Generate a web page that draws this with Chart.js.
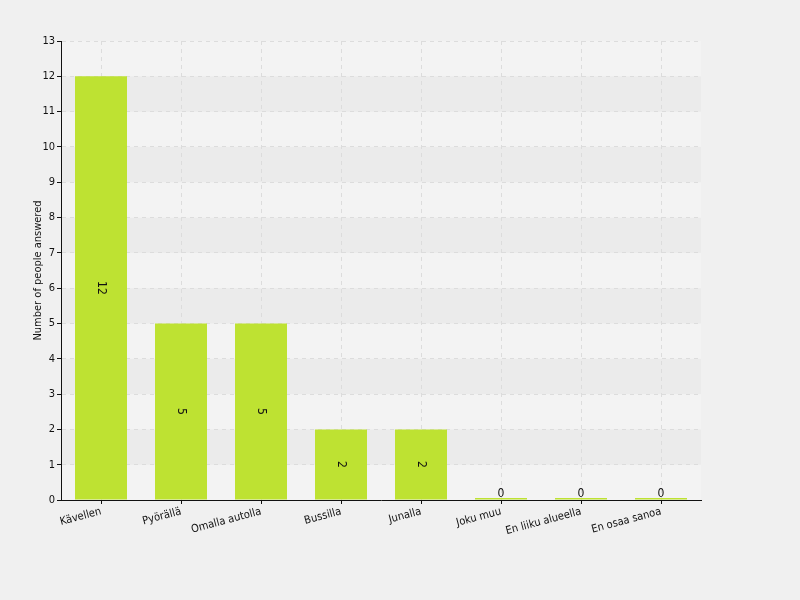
<!DOCTYPE html>
<html>
<head>
<meta charset="utf-8">
<script src="https://cdn.jsdelivr.net/npm/chart.js@4/dist/chart.umd.min.js"></script>
<style>
	html, body { margin: 0; padding: 0; background: #f0f0f0; }
	#wrap { width: 800px; height: 600px; }
</style>
</head>
<body>
<div id="wrap"><canvas id="canvasTravel"></canvas></div>
<script>
var categoryList = ['Kävellen', 'Pyörällä', 'Omalla autolla', 'Bussilla', 'Junalla', 'Joku muu', 'En liiku alueella', 'En osaa sanoa'];
var valueList = [12, 5, 5, 2, 2, 0, 0, 0];
var axisTitle = 'Number of people answered';
var fontName = "'DejaVu Sans', sans-serif";
var fontWeight = 'normal condensed';

/* alternating horizontal bands behind the grid */
var bandPlugin = {
	id: 'bands',
	beforeDraw: function(chart) {
		var ctx = chart.ctx, area = chart.chartArea, y = chart.scales.y;
		ctx.save();
		for (var v = 0; v < y.max; v++) {
			var top = y.getPixelForValue(v + 1), bottom = y.getPixelForValue(v);
			ctx.fillStyle = (v % 2 === 0) ? '#f3f3f3' : '#ebebeb';
			ctx.fillRect(area.left, top, area.right - area.left, bottom - top);
		}
		ctx.restore();
	}
};

/* values written on the bars */
var valuePlugin = {
	id: 'values',
	afterDatasetsDraw: function(chart) {
		var ctx = chart.ctx;
		var meta = chart.getDatasetMeta(0);
		ctx.save();
		ctx.fillStyle = '#111';
		ctx.font = fontWeight + ' 12px ' + fontName;
		meta.data.forEach(function(bar, i) {
			var val = valueList[i];
			if (val === 0) {
				ctx.textAlign = 'center';
				ctx.textBaseline = 'bottom';
				ctx.fillText(String(val), bar.x, bar.base);
			} else {
				ctx.save();
				ctx.translate(bar.x, (bar.y + bar.base) / 2);
				ctx.rotate(Math.PI / 2);
				ctx.textAlign = 'center';
				ctx.textBaseline = 'middle';
				ctx.fillText(String(val), 0, 0);
				ctx.restore();
			}
		});
		ctx.restore();
	}
};

Chart.defaults.font.family = fontName;
Chart.defaults.font.size = 11;
Chart.defaults.font.weight = fontWeight;
Chart.defaults.color = '#111';

var chart = new Chart(document.getElementById('canvasTravel'), {
	type: 'bar',
	data: {
		labels: categoryList,
		datasets: [{
			data: valueList,
			backgroundColor: '#bee232',
			borderWidth: 0,
			barPercentage: 0.65,
			categoryPercentage: 1,
			minBarLength: 2
		}]
	},
	options: {
		responsive: true,
		maintainAspectRatio: false,
		animation: false,
		layout: {
			padding: { top: 41, right: 99, left: 32, bottom: 0 }
		},
		plugins: {
			legend: { display: false },
			tooltip: { enabled: false }
		},
		scales: {
			x: {
				grid: {
					offset: false,
					color: '#dcdcdc',
					tickColor: '#111',
					tickLength: 4,
					tickBorderDash: []
				},
				border: { display: true, color: '#111', width: 1, dash: [4, 4] },
				ticks: {
					maxRotation: 15,
					minRotation: 15,
					padding: 1
				},
				afterFit: function(scale) { scale.height = 100; }
			},
			y: {
				min: 0,
				max: 13,
				grid: {
					color: '#dcdcdc',
					tickColor: '#111',
					tickLength: 4,
					tickBorderDash: []
				},
				border: { display: true, color: '#111', width: 1, dash: [4, 4] },
				ticks: {
					stepSize: 1,
					padding: 2
				},
				title: {
					display: true,
					text: axisTitle,
					padding: { top: 0, bottom: 0 }
				},
				afterFit: function(scale) { scale.width = 29; }
			}
		}
	},
	plugins: [bandPlugin, valuePlugin]
});
</script>
</body>
</html>
